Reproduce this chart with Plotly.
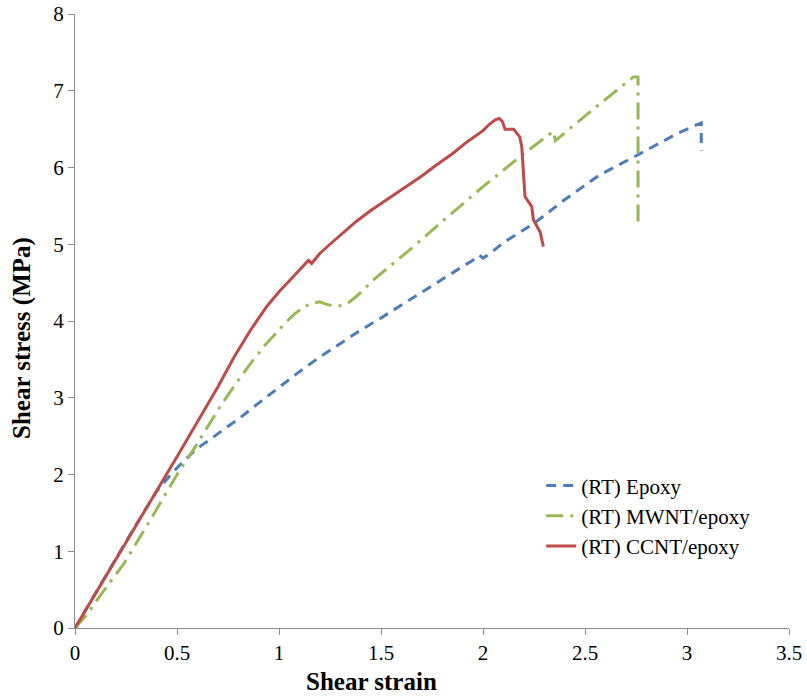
import plotly.graph_objects as go

epoxy_x = [0, 0.1, 0.2, 0.3, 0.4, 0.47, 0.52, 0.57, 0.62, 0.66, 0.72, 0.8, 0.9, 1.0, 1.1, 1.2, 1.3, 1.4, 1.5, 1.6, 1.7, 1.8, 1.9, 1.95, 1.98, 2.0, 2.03, 2.1, 2.25, 2.4, 2.57, 2.77, 2.95, 3.05, 3.07, 3.07]
epoxy_y = [0, 0.45, 0.9, 1.35, 1.78, 2.0, 2.14, 2.27, 2.38, 2.45, 2.57, 2.72, 2.93, 3.14, 3.34, 3.53, 3.71, 3.88, 4.04, 4.21, 4.38, 4.55, 4.71, 4.79, 4.86, 4.82, 4.87, 5.02, 5.27, 5.58, 5.90, 6.18, 6.44, 6.56, 6.58, 6.22]

mwnt_x = [0, 0.06, 0.12, 0.24, 0.37, 0.5, 0.58, 0.65, 0.71, 0.79, 0.87, 0.93, 0.99, 1.04, 1.08, 1.12, 1.16, 1.2, 1.23, 1.26, 1.3, 1.34, 1.37, 1.42, 1.46, 1.56, 1.66, 1.81, 2.0, 2.2, 2.345, 2.355, 2.40, 2.55, 2.737, 2.76, 2.76]
mwnt_y = [0, 0.18, 0.41, 0.84, 1.41, 2.0, 2.32, 2.62, 2.88, 3.19, 3.48, 3.68, 3.86, 4.0, 4.1, 4.18, 4.23, 4.25, 4.22, 4.2, 4.2, 4.24, 4.30, 4.42, 4.53, 4.75, 4.97, 5.32, 5.75, 6.18, 6.47, 6.35, 6.45, 6.78, 7.18, 7.18, 5.22]

ccnt_x = [0, 0.1, 0.3, 0.5, 0.6, 0.7, 0.78, 0.86, 0.94, 1.0, 1.05, 1.1, 1.144, 1.16, 1.2, 1.25, 1.3, 1.38, 1.45, 1.5, 1.59, 1.7, 1.76, 1.85, 1.92, 2.0, 2.03, 2.06, 2.08, 2.095, 2.108, 2.15, 2.18, 2.19, 2.206, 2.239, 2.247, 2.28, 2.296]
ccnt_y = [0, 0.45, 1.34, 2.23, 2.68, 3.14, 3.53, 3.88, 4.19, 4.38, 4.52, 4.66, 4.79, 4.75, 4.88, 5.0, 5.12, 5.3, 5.44, 5.53, 5.69, 5.89, 6.01, 6.18, 6.33, 6.48, 6.56, 6.62, 6.64, 6.6, 6.5, 6.50, 6.40, 6.27, 5.62, 5.49, 5.32, 5.16, 4.97]

names = ["(RT) Epoxy", "(RT) MWNT/epoxy", "(RT) CCNT/epoxy"]
x_title = "Shear strain"
y_title = "Shear stress (MPa)"

font = "Liberation Serif"

fig = go.Figure()
fig.add_trace(go.Scatter(x=epoxy_x, y=epoxy_y, mode="lines", name=names[0],
                         line=dict(color="#4A7EBB", width=3, dash="10px,7px")))
fig.add_trace(go.Scatter(x=mwnt_x, y=mwnt_y, mode="lines", name=names[1],
                         line=dict(color="#98B954", width=3, dash="17px,7px,3px,7px")))
fig.add_trace(go.Scatter(x=ccnt_x, y=ccnt_y, mode="lines", name=names[2],
                         line=dict(color="#BE4B48", width=3)))

axis_common = dict(showgrid=False, zeroline=False, showline=True, linecolor="#8C8C8C", linewidth=1,
                   ticks="outside", ticklen=6, tickcolor="#8C8C8C", automargin=False,
                   tickfont=dict(family=font, size=21, color="black"))

fig.update_layout(
    width=807, height=698,
    margin=dict(l=75, r=18, t=14, b=70),
    paper_bgcolor="white", plot_bgcolor="white",
    font=dict(family=font, size=21, color="black"),
    legend=dict(x=0.653, y=0.265, xanchor="left", yanchor="top",
                font=dict(family=font, size=21, color="black"),
                bgcolor="rgba(0,0,0,0)"),
    xaxis=dict(range=[0, 3.5], dtick=0.5, tick0=0, **axis_common),
    yaxis=dict(range=[0, 8], dtick=1, tick0=0, **axis_common),
    annotations=[
        dict(text="<b>" + x_title + "</b>", xref="paper", yref="paper",
             x=(371 - 75) / 714, y=-(681 - 628) / 614, xanchor="center", yanchor="middle",
             showarrow=False, font=dict(family=font, size=25, color="black")),
        dict(text="<b>" + y_title + "</b>", xref="paper", yref="paper",
             x=(22 - 75) / 714, y=(628 - 338) / 614, xanchor="center", yanchor="middle",
             textangle=-90, showarrow=False, font=dict(family=font, size=25, color="black")),
    ],
)

fig.write_html("out.html", config={"displayModeBar": False},
               post_script="document.body.style.margin='0';")
